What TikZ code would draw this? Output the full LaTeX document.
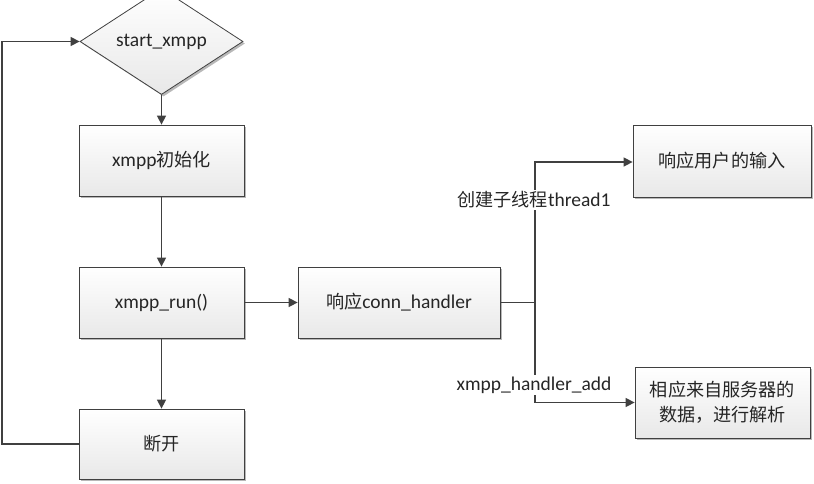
\documentclass[tikz,border=0pt]{standalone}
\usepackage{fontspec}
\setmainfont{Carlito}
\newfontfamily\cjk{Noto Sans CJK SC}[Scale=0.93]
\usetikzlibrary{shapes.geometric,arrows.meta,shadows}
\definecolor{ln}{HTML}{404040}
\tikzset{
  txt/.style={font=\fontsize{19.5pt}{23pt}\selectfont, text=black!85},
  shape base/.style={txt, draw=ln, line width=0.8pt, top color=white, bottom color=black!9,
    drop shadow={shadow xshift=2pt, shadow yshift=-2pt, fill=black!28, opacity=1}},
  box/.style={shape base, rectangle, inner sep=0pt, minimum width=165pt, minimum height=71pt, align=center},
  decision/.style={shape base, diamond, inner sep=0pt, minimum width=163pt, minimum height=83pt},
  arr/.style={draw=ln, line width=1.5pt, -{Triangle[length=9pt,width=9pt]}},
  con/.style={draw=ln, line width=1.5pt},
  lbl/.style={txt, fill=white, inner sep=2pt}
}
\begin{document}
\begin{tikzpicture}[x=1pt,y=-1pt]
\useasboundingbox (0,0) rectangle (814,483);
\node[decision] (d) at (161.5,41.5) {start\_xmpp};
\node[box] (init) at (161.5,160.5) {xmpp{\cjk 初始化}};
\node[box] (run) at (161.5,302.5) {xmpp\_run()};
\node[box, minimum height=70pt] (disc) at (161.5,444) {{\cjk 断开}};
\node[box, minimum width=202pt] (conn) at (399,302.5) {{\cjk 响应}conn\_handler};
\node[box, minimum width=178pt, minimum height=72pt] (user) at (722,161) {{\cjk 响应用户的输入}};
\node[box, minimum width=175pt] (serv) at (722.5,402.5) {{\cjk 相应来自服务器的}\\[2pt]{\cjk 数据，进行解析}};
\coordinate (j) at (535,302.5);
\coordinate (lp) at (2,444);
\draw[arr] (d) -- (init);
\draw[arr] (init) -- (run);
\draw[arr] (run) -- (disc);
\draw[arr] (run) -- (conn);
\draw[arr] (disc.west) -- (lp) |- (d.west);
\draw[con] (conn.east) -- (j);
\draw[arr] (j) |- (user.west |- 0,162);
\draw[arr] (j) |- (serv.west);
\node[lbl] (l1) at (534,200) {{\cjk 创建子线程}thread1};
\node[lbl] (l2) at (534,385) {xmpp\_handler\_add};
\end{tikzpicture}
\end{document}
